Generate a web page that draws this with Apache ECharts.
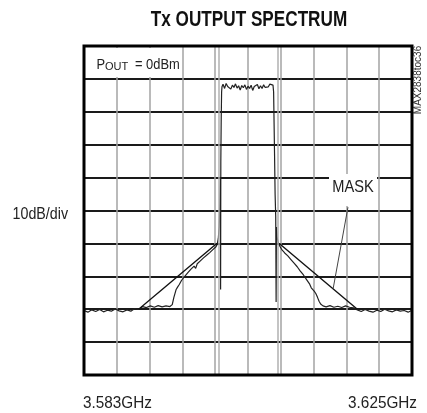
<!DOCTYPE html>
<html><head><meta charset="utf-8">
<script src="https://cdn.jsdelivr.net/npm/echarts@6/dist/echarts.min.js"></script>
<style>html,body{margin:0;padding:0;background:#fff}#c{width:427px;height:413px}</style>
</head><body><div id="c"></div>
<script>
// ---- text ----
const titleText = 'Tx OUTPUT SPECTRUM';
const xTickLabels = ['3.583GHz', '3.625GHz'];
const yScaleLabel = '10dB/div';
const powerLabel = ['P', 'OUT', '= 0dBm'];
const maskLabel = 'MASK';
const figureId = 'MAX2838toc36';

// ---- axes (x: MHz offset from 3.604GHz, y: dBm) ----
const xRange = [-21, 21];
const xStep = 4.2;
const yRange = [-100, 0];
const yStep = 10;

// ---- measured spectrum trace ----
const traceFreq = [
  -21,-20.5,-20,-19.5,-19,-18.5,-18,-17.5,-17,-16.5,-16,-15.5,-15,-14.5,-14,
  -13.5,-13,-12.5,-12,-11.5,-11,-10.5,-10,-9.7,
  -9.5,-9.2,-9.0,-8.8,-8.5,-8.3,-8.1,-7.9,-7.7,-7.5,-7.3,-7.1,-6.9,-6.7,-6.5,-6.3,-6.1,-5.9,-5.7,-5.5,-5.3,-5.1,-4.9,-4.7,-4.5,-4.3,-4.1,-3.95,
  -3.8,-3.7,-3.6,-3.53,-3.51,-3.48,-3.43,-3.38,-3.33,
  -3.2,-3.0,-2.8,-2.6,-2.4,-2.2,-2.0,-1.8,-1.6,-1.4,-1.2,-1.0,-0.8,-0.6,-0.4,-0.2,0,0.2,0.4,0.6,0.8,1.0,1.2,1.4,1.6,1.8,2.0,2.2,2.4,2.6,2.8,3.0,3.2,
  3.28,3.33,3.4,3.47,3.55,3.6,3.64,3.72,3.85,3.97,
  4.1,4.3,4.5,4.7,4.9,5.1,5.3,5.5,5.7,5.9,6.1,6.3,6.5,6.7,6.9,7.1,7.3,7.5,7.7,7.9,8.1,8.3,8.5,8.7,8.9,9.1,9.3,9.6,
  10,10.5,11,11.5,12,12.5,13,13.5,
  14,14.5,15,15.5,16,16.5,17,17.5,18,18.5,19,19.5,20,20.5,21
];
const traceLevel = [
  -80.4,-80.9,-80.2,-80.7,-80.1,-80.8,-80.3,-80.6,-79.9,-80.5,-80.8,-80.2,-80.6,-79.8,-80.1,
  -79.2,-79.5,-79.0,-79.4,-78.9,-79.3,-79.0,-79.2,-78.6,
  -76.5,-74.0,-73.2,-72.5,-71.2,-71.8,-70.0,-70.6,-68.9,-69.4,-67.8,-68.3,-66.9,-67.6,-66.2,-66.8,-65.3,-65.9,-64.4,-65.0,-63.6,-64.1,-62.8,-63.0,-61.9,-62.2,-61.0,-60.3,
  -58.5,-55,-48,-40,-74,-35,-22,-14,-12.4,
  -11.6,-12.9,-11.4,-12.3,-11.7,-13.1,-11.9,-12.6,-11.5,-12.8,-12.1,-13.4,-12.0,-12.7,-11.8,-13.2,-12.2,-12.9,-11.9,-13.5,-12.3,-12.8,-11.7,-13.0,-12.1,-12.9,-11.8,-12.6,-12.0,-12.4,-11.6,-12.2,-11.9,
  -14,-22,-33,-45,-52,-77.8,-55,-58,-59.6,-60.4,
  -60.9,-61.8,-61.5,-62.9,-62.6,-63.8,-63.5,-64.9,-64.6,-66.0,-65.7,-67.1,-66.8,-68.4,-68.0,-69.6,-69.2,-71.0,-71.6,-72.4,-73.5,-73.1,-74.6,-75.3,-76.4,-77.6,-78.4,-79.0,
  -79.3,-78.9,-79.4,-79.1,-79.5,-79.0,-79.4,-79.6,
  -80.2,-80.7,-80.1,-80.6,-80.9,-80.3,-80.7,-80.0,-80.5,-80.8,-80.2,-80.6,-80.4,-80.9,-80.3
];

// ---- spectral mask ----
const maskLeftFreq = [-14, -4];
const maskLeftLevel = [-80, -60];
const maskRightFreq = [4, 14];
const maskRightLevel = [-60, -80];
const maskPointer = [[12.8, -49], [10.9, -73.8]];

// ---- channel edge markers ----
const markerFreq = [-3.75, 3.75];

const FONT = "'Liberation Sans', Arial, sans-serif";
const zip = (a, b) => a.map((v, i) => [v, b[i]]);

const chart = echarts.init(document.getElementById('c'), null, {renderer: 'canvas'});
chart.setOption({
  animation: false,
  backgroundColor: '#fff',
  grid: {left: 84, right: 15, top: 46, bottom: 38, show: true, borderColor: '#000', borderWidth: 0, backgroundColor: '#fff'},
  xAxis: {
    type: 'value', min: xRange[0], max: xRange[1], interval: xStep,
    axisLine: {show: false}, axisTick: {show: false}, axisLabel: {show: false},
    splitLine: {show: true, lineStyle: {color: '#a3a3a3', width: 1.5}}
  },
  yAxis: {
    type: 'value', min: yRange[0], max: yRange[1], interval: yStep,
    axisLine: {show: false}, axisTick: {show: false}, axisLabel: {show: false},
    splitLine: {show: true, lineStyle: {color: '#1a1a1a', width: 2.2}}
  },
  series: [
    {
      type: 'line', data: zip(traceFreq, traceLevel), showSymbol: false, symbol: 'none',
      lineStyle: {color: '#222', width: 1.2}, z: 3,
      markLine: {
        silent: true, symbol: 'none', label: {show: false},
        lineStyle: {color: '#b0b0b0', width: 1.5, type: 'solid'},
        data: markerFreq.map(f => ({xAxis: f}))
      }
    },
    {type: 'line', data: zip(maskLeftFreq, maskLeftLevel), showSymbol: false, symbol: 'none', lineStyle: {color: '#111', width: 1.3}, z: 4},
    {
      type: 'line', data: zip(maskRightFreq, maskRightLevel), showSymbol: false, symbol: 'none', lineStyle: {color: '#111', width: 1.3}, z: 4,
      markLine: {
        silent: true, symbol: 'none', label: {show: false},
        lineStyle: {color: '#444', width: 1, type: 'solid'},
        data: [[{coord: maskPointer[0]}, {coord: maskPointer[1]}]]
      }
    }
  ]
});

// positions derived from the axes' scales
const p0 = chart.convertToPixel({gridIndex: 0}, [xRange[0], yRange[0]]);
const p1 = chart.convertToPixel({gridIndex: 0}, [xRange[1], yRange[1]]);
const pc = chart.convertToPixel({gridIndex: 0}, [(xRange[0] + xRange[1]) / 2, (yRange[0] + yRange[1]) / 2]);
const L = p0[0], B = p0[1], R = p1[0], T = p1[1];

const txt = (x, y, text, size, opts) => Object.assign({
  type: 'text', x: x, y: y, z: 101,
  style: Object.assign({text: text, fontFamily: FONT, fontSize: size, fill: '#222', verticalAlign: 'middle'}, (opts && opts.style) || {})
}, opts ? {scaleX: opts.scaleX || 1, rotation: opts.rotation || 0} : {});

chart.setOption({
  graphic: [
    // plot frame
    {type: 'rect', shape: {x: L, y: T, width: R - L, height: B - T}, style: {fill: null, stroke: '#000', lineWidth: 3}, z: 99},
    // title
    txt(pc[0] + 1, 20.3, titleText, 22, {scaleX: 0.78, style: {fontWeight: 'bold', fill: '#111', align: 'center'}}),
    // x tick labels
    txt(L - 1, B + 28.5, xTickLabels[0], 17, {scaleX: 0.9, style: {align: 'left'}}),
    txt(R + 5, B + 28.5, xTickLabels[1], 17, {scaleX: 0.9, style: {align: 'right'}}),
    // y scale label
    txt(L - 16, pc[1] + 4, yScaleLabel, 16, {scaleX: 0.89, style: {align: 'right'}}),
    // power label box
    {type: 'rect', shape: {x: L + 2, y: T + 2, width: 95, height: 29}, style: {fill: '#fff'}, z: 100},
    txt(96.5, 64.7, powerLabel[0], 15, {scaleX: 0.86}),
    txt(105, 66.5, powerLabel[1], 11, {scaleX: 1}),
    txt(135, 64.7, powerLabel[2], 15, {scaleX: 0.86}),
    // mask label
    {type: 'rect', shape: {x: 329, y: 174, width: 48, height: 32}, style: {fill: '#fff'}, z: 100},
    txt(353, 187.5, maskLabel, 17, {scaleX: 0.86, style: {align: 'center'}}),
    // figure id
    txt(R + 6, T + 34, figureId, 10, {rotation: Math.PI / 2, scaleX: 1, style: {align: 'center', fill: '#333'}})
  ]
});
</script>
</body></html>
